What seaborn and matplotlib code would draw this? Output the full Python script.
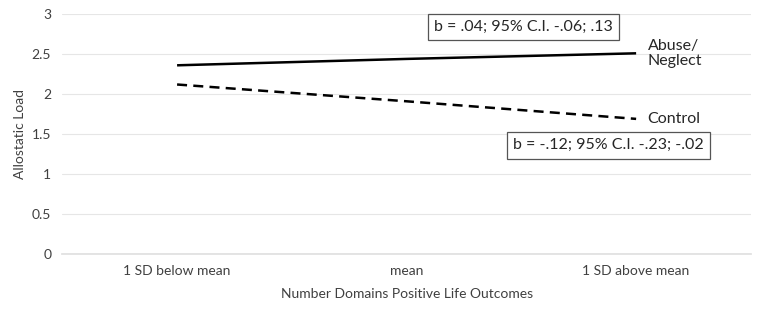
import seaborn as sns
import matplotlib.pyplot as plt
import pandas as pd

# データ
levels = ['1 SD below mean', 'mean', '1 SD above mean']
abuse = [2.36, 2.44, 2.51]
control = [2.12, 1.91, 1.69]

df = pd.DataFrame({
    'level': levels * 2,
    'load': abuse + control,
    'group': ['Abuse/\nNeglect'] * 3 + ['Control'] * 3,
})

sns.set_theme(style='white')
plt.rcParams['font.family'] = ['Lato', 'DejaVu Sans']

fig = plt.figure(figsize=(7.6, 3.14), dpi=100)
ax = fig.add_axes([0.082, 0.191, 0.906, 0.764])

sns.lineplot(data=df, x='level', y='load', hue='group', style='group',
             palette=['black', 'black'], dashes=[(1, 0), (4, 2.5)],
             linewidth=1.8, legend=False, sort=False, ax=ax)

ax.set_ylim(0, 3)
ax.set_xlim(-0.5, 2.5)
ax.set_yticks([0, 0.5, 1, 1.5, 2, 2.5, 3])
ax.set_yticklabels(['0', '0.5', '1', '1.5', '2', '2.5', '3'])
ax.yaxis.grid(True, color='#e6e6e6', linewidth=0.8)
ax.set_axisbelow(True)
for s in ['top', 'right', 'left']:
    ax.spines[s].set_visible(False)
ax.spines['bottom'].set_color('#e0e0e0')
ax.tick_params(axis='both', length=0, labelsize=10, colors='#404040', pad=8)
ax.set_xlabel('Number Domains Positive Life Outcomes', fontsize=10, color='#404040', labelpad=8)
ax.set_ylabel('Allostatic Load', fontsize=10, color='#404040', labelpad=4)

# 系列ラベル
ax.text(2.05, abuse[-1], 'Abuse/\nNeglect', fontsize=11.5, va='center', ha='left', linespacing=1.05)
ax.text(2.05, control[-1], 'Control', fontsize=11.5, va='center', ha='left')

# 回帰係数のボックス
box = dict(boxstyle='square,pad=0.4', fc='white', ec='#555555', lw=0.9)
ax.text(1.51, 2.84, 'b = .04; 95% C.I. -.06; .13', fontsize=11.5, ha='center', va='center', bbox=box)
ax.text(1.88, 1.36, 'b = -.12; 95% C.I. -.23; -.02', fontsize=11.5, ha='center', va='center', bbox=box)

plt.savefig('out.png', dpi=100)
